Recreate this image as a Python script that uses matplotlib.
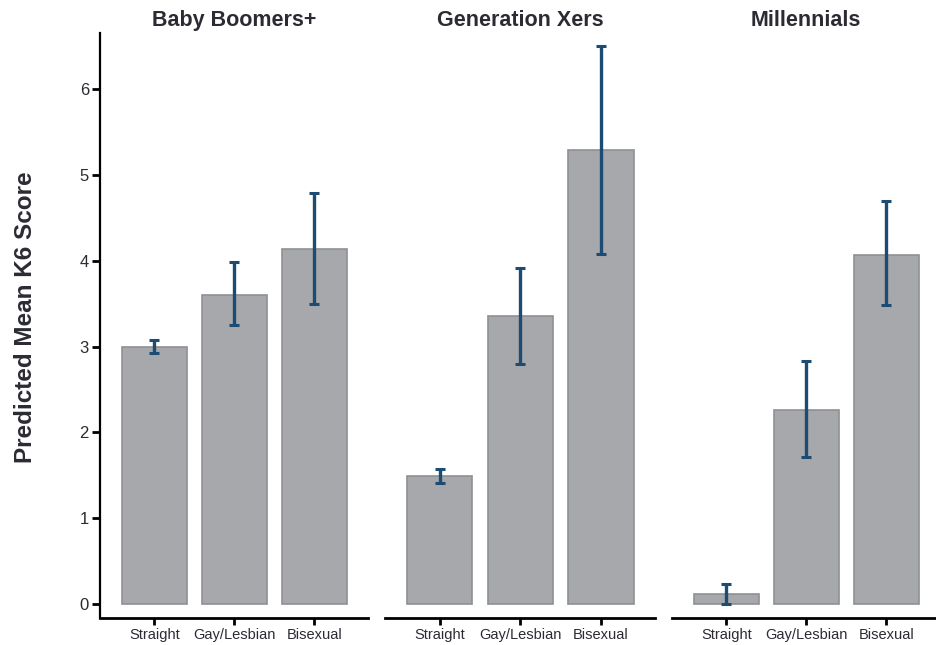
import matplotlib.pyplot as plt

plt.rcParams['font.family'] = ['Liberation Sans', 'DejaVu Sans']

generations = ['Baby Boomers+', 'Generation Xers', 'Millennials']
orientations = ['Straight', 'Gay/Lesbian', 'Bisexual']

# predicted mean K6 score with 95% CI bounds, one list per generation
boomers_mean = [3.00, 3.60, 4.14]
boomers_low = [2.93, 3.25, 3.50]
boomers_high = [3.08, 3.99, 4.79]

genx_mean = [1.49, 3.36, 5.29]
genx_low = [1.41, 2.80, 4.08]
genx_high = [1.58, 3.92, 6.50]

millennial_mean = [0.12, 2.26, 4.07]
millennial_low = [0.00, 1.71, 3.48]
millennial_high = [0.23, 2.83, 4.69]

panels = [
    (boomers_mean, boomers_low, boomers_high),
    (genx_mean, genx_low, genx_high),
    (millennial_mean, millennial_low, millennial_high),
]

BAR_COLOR = '#a7a8ab'
BAR_EDGE = '#8f9094'
ERR_COLOR = '#1c4c74'
TEXT_COLOR = '#2b2b33'

fig = plt.figure(figsize=(9.36, 6.45), dpi=100)
W, H = 936, 645
lefts = [100, 385, 672]
widths = [268, 270, 268]
bottom_px, top_px = 618, 33

for i, (name, (mean, low, high)) in enumerate(zip(generations, panels)):
    ax = fig.add_axes([lefts[i] / W, 1 - bottom_px / H,
                       widths[i] / W, (bottom_px - top_px) / H])
    x = list(range(len(orientations)))
    ax.bar(x, mean, width=0.81, color=BAR_COLOR, edgecolor=BAR_EDGE,
           linewidth=1.2, zorder=2)
    yerr = [[m - lo for m, lo in zip(mean, low)],
            [hi - m for m, hi in zip(mean, high)]]
    ax.errorbar(x, mean, yerr=yerr, fmt='none', ecolor=ERR_COLOR,
                elinewidth=2.4, capsize=3.5, capthick=2.2, zorder=3)

    ax.set_xlim(-0.68, 2.67)
    ax.set_ylim(-0.16, 6.65)
    ax.set_xticks(x)
    ax.set_xticklabels(orientations, fontsize=10.5, color=TEXT_COLOR)
    ax.tick_params(axis='x', length=5, width=2, pad=2)

    for side in ['top', 'right']:
        ax.spines[side].set_visible(False)
    ax.spines['bottom'].set_linewidth(2)

    if i == 0:
        ax.spines['left'].set_linewidth(1.6)
        ax.set_yticks(range(0, 7))
        ax.tick_params(axis='y', length=6, width=2, pad=2, labelsize=12,
                       labelcolor=TEXT_COLOR)
        ax.set_ylabel('Predicted Mean K6 Score', fontsize=17.5,
                      fontweight='bold', color=TEXT_COLOR)
        ax.yaxis.set_label_coords(-0.235, 0.515)
    else:
        ax.spines['left'].set_visible(False)
        ax.set_yticks([])

    ax.set_title(name, fontsize=15.5, fontweight='bold', color=TEXT_COLOR, pad=5)

fig.savefig('out.png', dpi=100)
